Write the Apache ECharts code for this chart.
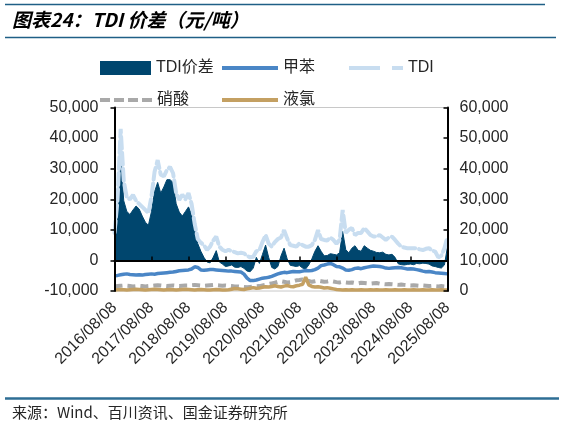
<!DOCTYPE html>
<html><head><meta charset="utf-8">
<script src="https://cdn.jsdelivr.net/npm/echarts@6/dist/echarts.min.js"></script>
<style>html,body{margin:0;padding:0;background:#fff;}#c{width:564px;height:425px;}</style>
</head><body><div id="c"></div>
<script>
// monthly categories 2016/08 .. 2025/08
const categories = [];
for (let y = 2016, m = 8; !(y === 2025 && m === 9);) {
  categories.push(y + '/' + String(m).padStart(2, '0') + '/08');
  m++; if (m > 12) { m = 1; y++; }
}
const tickLabels = ['2016/08/08','2017/08/08','2018/08/08','2019/08/08','2020/08/08','2021/08/08','2022/08/08','2023/08/08','2024/08/08','2025/08/08'];

// TDI价差 (left axis)
const spread = [
  5500,13000,33000,19500,16000,15000,16500,17800,16800,14500,12500,11500,
  16000,22500,25500,22000,24000,26400,26400,25500,18500,15800,14500,16000,
  17500,15000,10000,5500,3000,1000,-500,-800,1000,3200,-500,-1200,
  -2000,-1800,-1500,-2200,-2300,-2000,-2600,-3500,-3700,-2500,1000,-1000,
  2000,5000,1000,-2300,-2800,-2000,1500,4000,500,-1600,-1800,-2000,
  -1700,-2500,-2800,-1500,500,3000,4800,3000,1500,1600,2200,2000,
  1800,2500,9500,3500,2500,4000,4800,3300,3000,4800,4000,3300,
  3000,2600,2500,2700,2000,1800,2000,1000,-1100,-1400,-1500,-1300,
  -1200,-1400,-1000,-1100,-900,-1000,-1200,-1800,-2000,-2300,-2500,-1500,
  4500
];
// 甲苯 (right axis)
const toluene = [
  5000,5100,5300,5500,5600,5400,5300,5200,5300,5200,5400,5500,
  5600,5500,5700,5800,5900,6000,6100,6200,6400,6600,6700,6800,
  6900,7200,7900,7700,6900,6800,6900,7000,7000,6900,6800,6700,
  6600,6500,6500,6400,6300,6200,5500,4200,3400,3400,3600,3900,
  4200,4300,4500,4800,5200,5600,5900,6100,6000,6200,6400,6300,
  6300,6500,6700,6600,6700,7000,7500,8300,8500,8800,9000,8600,
  8000,7900,7500,6900,6800,7000,7400,7500,7300,7600,7800,8000,
  8200,8100,8000,7800,7500,7400,7500,7600,7700,7600,7400,7200,
  7300,7200,7000,6800,6500,6300,6400,6200,6000,5900,5800,5700,
  5600
];
// TDI (right axis)
const tdi = [
  19000,30000,53000,36000,30500,30000,31400,29500,28500,27500,26500,25500,
  31000,39000,42800,38000,37500,39500,40600,38500,32000,29800,31500,30000,
  32000,28500,22000,17000,15800,15000,13400,14500,16500,17800,14500,13500,
  13000,13500,13000,12700,12300,12500,12300,11500,11000,11200,13000,13400,
  16000,18300,15500,14500,16000,17000,17500,19900,17200,15000,14800,14500,
  15600,15000,14500,14500,15000,16700,19900,17000,16700,16500,17500,16700,
  15500,16700,26500,19000,20000,20600,18300,19000,19000,20600,19500,18300,
  17800,17800,18300,17500,16700,17500,17800,16700,15500,14500,14200,14000,
  14000,14000,14000,13600,13400,13800,14000,13200,12900,11000,11500,14000,
  17800
];
// 硝酸 (right axis)
const nitric = [
  1500,1600,1700,1800,1700,1600,1500,1600,1700,1600,1500,1600,
  1700,1800,1900,1800,1700,1600,1700,1800,1700,1600,1700,1800,
  1800,1900,2000,1900,1800,1700,1800,1900,2000,1900,1800,1700,
  1800,1700,1600,1500,1500,1400,1300,1200,1300,1400,1500,1600,
  1800,2000,2300,2500,2700,3000,3200,3000,2800,2900,3200,3500,
  3600,3800,3500,3300,3000,3200,3400,3200,3000,3100,3300,3100,
  2900,2800,3000,2800,2700,2800,2600,2500,2700,2600,2500,2400,
  2500,2600,2400,2300,2200,2300,2200,2100,2000,2100,2000,1900,
  1800,1900,1800,1700,1800,1700,1600,1700,1600,1500,1600,1500,
  1500
];
// 液氯 (right axis)
const chlorine = [
  300,400,500,400,300,400,500,600,500,400,300,400,
  500,600,500,400,300,400,500,400,300,400,500,600,
  500,400,300,400,500,400,300,300,400,500,400,300,
  300,400,600,800,700,600,500,700,900,1100,900,1000,
  1200,1400,1300,1500,1700,1500,1300,1600,1800,1500,1400,1700,
  1900,2200,4500,2000,1500,1300,1400,1200,1000,1100,900,700,
  500,400,300,400,300,400,300,300,400,300,300,400,
  300,400,300,300,400,300,300,400,300,300,400,300,
  300,400,300,300,400,300,300,400,300,300,400,300,
  300
];
const leftTicks = {min: -10000, max: 50000, interval: 10000};
const rightTicks = {min: 0, max: 60000, interval: 10000};

const C = {spread:'#00466e', toluene:'#4a86c6', tdi:'#c8ddf0', nitric:'#a9a9a9', chlorine:'#c4a062'};
const fmt = v => v.toLocaleString('en-US');
const txt = {fontSize: 16, fontFamily: '"Liberation Sans","Noto Sans CJK SC",sans-serif', color: '#262626'};

const chart = echarts.init(document.getElementById('c'), null, {renderer: 'canvas'});
function leg(name, left, top, icon, w, h, color) {
  return {data: [{name: name, itemStyle: {color: color, borderWidth: 0}}], left: left, top: top, icon: icon,
    itemWidth: w, itemHeight: h, itemGap: 4, textStyle: txt, selectedMode: false, padding: 0};
}
chart.setOption({
  animation: false,
  backgroundColor: '#fff',
  grid: {left: 114.5, right: 116.5, top: 107.5, bottom: 134, show: true, borderColor: '#c8c8c8', borderWidth: 1, containLabel: false},
  legend: [
    leg('TDI价差', 100, 60, 'rect', 51, 14, C.spread),
    leg('甲苯', 222, 60, 'path://M0,0H56V4H0Z', 56, 4, C.toluene),
    leg('TDI', 349, 60, 'path://M0,0H31V4H0Z M43,0H54V4H43Z', 54, 4, C.tdi),
    leg('硝酸', 100, 92, 'path://M0,0H10V4H0Z M14,0H24V4H14Z M28,0H38V4H28Z M42,0H52V4H42Z', 52, 4, C.nitric),
    leg('液氯', 222, 92, 'path://M0,0H56V4H0Z', 56, 4, C.chlorine)
  ],
  xAxis: [
    {type: 'category', data: categories, boundaryGap: false, position: 'bottom',
     axisLine: {show: false, onZero: false}, axisTick: {show: false},
     axisLabel: {interval: 11, rotate: 45, margin: 14, fontSize: 16, fontFamily: txt.fontFamily, color: '#262626',
       formatter: v => tickLabels.indexOf(v) >= 0 ? v : ''}},
    {type: 'category', data: categories, boundaryGap: false, position: 'bottom', z: 10,
     axisLine: {show: true, onZero: true, onZeroAxisIndex: 0, lineStyle: {color: '#000', width: 2}},
     axisTick: {show: true, inside: true, length: 4, interval: 11, lineStyle: {color: '#000', width: 1.5}},
     axisLabel: {show: false}, splitLine: {show: false}}
  ],
  yAxis: [
    {type: 'value', position: 'left', min: leftTicks.min, max: leftTicks.max, interval: leftTicks.interval, z: 10,
     axisLine: {show: true, lineStyle: {color: '#000', width: 2}},
     axisTick: {show: true, length: 4, lineStyle: {color: '#000', width: 1.5}},
     axisLabel: {margin: 16, fontSize: 16, fontFamily: txt.fontFamily, color: '#262626', formatter: fmt},
     splitLine: {show: false}},
    {type: 'value', position: 'right', min: rightTicks.min, max: rightTicks.max, interval: rightTicks.interval, z: 10,
     axisLine: {show: true, lineStyle: {color: '#000', width: 2}},
     axisTick: {show: true, inside: true, length: 4, lineStyle: {color: '#000', width: 1.5}},
     axisLabel: {margin: 12, fontSize: 16, fontFamily: txt.fontFamily, color: '#262626', formatter: fmt},
     splitLine: {show: false}}
  ],
  series: [
    {name: 'TDI价差', type: 'line', xAxisIndex: 0, yAxisIndex: 0, data: spread, symbol: 'none', z: 2,
     lineStyle: {color: C.spread, width: 1}, itemStyle: {color: C.spread}, areaStyle: {color: C.spread, opacity: 1}},
    {name: '甲苯', type: 'line', xAxisIndex: 0, yAxisIndex: 1, data: toluene, symbol: 'none', z: 3,
     lineStyle: {color: C.toluene, width: 3.5}, itemStyle: {color: C.toluene}},
    {name: 'TDI', type: 'line', xAxisIndex: 0, yAxisIndex: 1, data: tdi, symbol: 'none', z: 3,
     lineStyle: {color: C.tdi, width: 4, type: [12, 4], cap: 'round'}, itemStyle: {color: C.tdi}},
    {name: '硝酸', type: 'line', xAxisIndex: 0, yAxisIndex: 1, data: nitric, symbol: 'none', z: 3,
     lineStyle: {color: C.nitric, width: 4, type: [8, 5]}, itemStyle: {color: C.nitric}},
    {name: '液氯', type: 'line', xAxisIndex: 0, yAxisIndex: 1, data: chlorine, symbol: 'none', z: 3,
     lineStyle: {color: C.chlorine, width: 3.5}, itemStyle: {color: C.chlorine}}
  ],
  graphic: [
    {type: 'line', shape: {x1: 5, y1: 4.5, x2: 545, y2: 4.5}, style: {stroke: '#1f5f86', lineWidth: 1.5}},
    {type: 'line', shape: {x1: 5, y1: 37.5, x2: 556, y2: 37.5}, style: {stroke: '#1f5f86', lineWidth: 1.5}},
    {type: 'text', x: 12, y: 20, style: {text: '图表24：TDI 价差（元/吨）', font: 'italic bold 19px "Noto Sans CJK SC"', fill: '#000', verticalAlign: 'middle'}},
    {type: 'line', shape: {x1: 5, y1: 398.5, x2: 559, y2: 398.5}, style: {stroke: '#2e6e95', lineWidth: 2.5}},
    {type: 'text', x: 12, y: 412, style: {text: '来源：Wind、百川资讯、国金证券研究所', font: '15px "Noto Sans CJK SC"', fill: '#262626', verticalAlign: 'middle'}}
  ]
});
</script></body></html>
